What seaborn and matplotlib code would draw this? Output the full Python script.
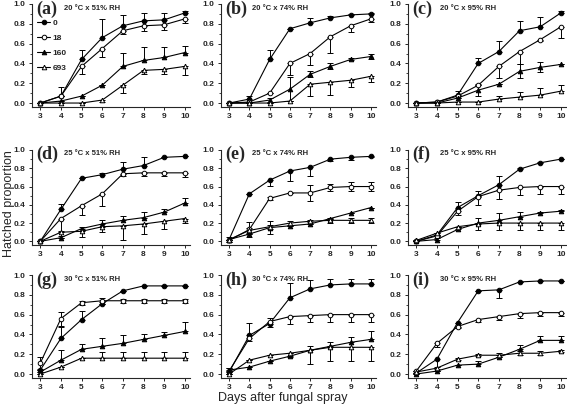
import numpy as np
import pandas as pd
import matplotlib
matplotlib.use("Agg")
import matplotlib.pyplot as plt
from matplotlib.ticker import MultipleLocator
import seaborn as sns

days = [3, 4, 5, 6, 7, 8, 9, 10]
doses = ["0", "18", "160", "693"]
panel_labels = ["(a)", "(b)", "(c)", "(d)", "(e)", "(f)", "(g)", "(h)", "(i)"]
conditions = ["20 °C x 51% RH", "20 °C x 74% RH", "20 °C x 95% RH",
              "25 °C x 51% RH", "25 °C x 74% RH", "25 °C x 95% RH",
              "30 °C x 51% RH", "30 °C x 74% RH", "30 °C x 95% RH"]

# mean hatched proportion per panel, rows = doses 0, 18, 160, 693
means = [
    [[0.00, 0.07, 0.44, 0.66, 0.78, 0.83, 0.84, 0.91],
     [0.00, 0.07, 0.37, 0.55, 0.73, 0.78, 0.79, 0.85],
     [0.00, 0.02, 0.07, 0.18, 0.37, 0.43, 0.46, 0.51],
     [0.00, 0.00, 0.00, 0.03, 0.18, 0.33, 0.34, 0.37]],
    [[0.00, 0.04, 0.44, 0.75, 0.81, 0.86, 0.89, 0.90],
     [0.00, 0.01, 0.10, 0.40, 0.50, 0.67, 0.78, 0.85],
     [0.00, 0.00, 0.03, 0.14, 0.29, 0.37, 0.44, 0.47],
     [0.00, 0.00, 0.00, 0.02, 0.19, 0.21, 0.23, 0.27]],
    [[0.00, 0.01, 0.08, 0.40, 0.52, 0.73, 0.77, 0.91],
     [0.00, 0.01, 0.07, 0.18, 0.37, 0.52, 0.64, 0.77],
     [0.00, 0.00, 0.05, 0.13, 0.19, 0.32, 0.36, 0.39],
     [0.00, 0.00, 0.01, 0.01, 0.04, 0.06, 0.08, 0.12]],
    [[0.00, 0.35, 0.69, 0.73, 0.79, 0.83, 0.92, 0.93],
     [0.00, 0.25, 0.39, 0.52, 0.74, 0.75, 0.75, 0.75],
     [0.00, 0.04, 0.14, 0.19, 0.23, 0.26, 0.32, 0.42],
     [0.00, 0.10, 0.11, 0.16, 0.17, 0.19, 0.22, 0.25]],
    [[0.02, 0.52, 0.67, 0.77, 0.81, 0.90, 0.92, 0.93],
     [0.01, 0.13, 0.47, 0.53, 0.53, 0.59, 0.60, 0.60],
     [0.02, 0.08, 0.15, 0.17, 0.19, 0.25, 0.31, 0.37],
     [0.02, 0.12, 0.16, 0.20, 0.22, 0.23, 0.23, 0.23]],
    [[0.00, 0.07, 0.37, 0.50, 0.62, 0.79, 0.86, 0.90],
     [0.00, 0.06, 0.33, 0.49, 0.56, 0.59, 0.60, 0.60],
     [0.00, 0.02, 0.13, 0.20, 0.23, 0.27, 0.31, 0.33],
     [0.01, 0.09, 0.16, 0.19, 0.20, 0.20, 0.20, 0.20]],
    [[0.04, 0.36, 0.55, 0.71, 0.84, 0.89, 0.89, 0.89],
     [0.11, 0.56, 0.72, 0.74, 0.74, 0.74, 0.74, 0.74],
     [0.02, 0.14, 0.25, 0.28, 0.31, 0.35, 0.39, 0.43],
     [0.00, 0.07, 0.16, 0.16, 0.16, 0.16, 0.16, 0.16]],
    [[0.02, 0.39, 0.51, 0.77, 0.86, 0.90, 0.91, 0.91],
     [0.03, 0.36, 0.53, 0.58, 0.59, 0.60, 0.60, 0.60],
     [0.04, 0.07, 0.13, 0.18, 0.24, 0.28, 0.32, 0.35],
     [0.00, 0.14, 0.19, 0.21, 0.24, 0.27, 0.27, 0.27]],
    [[0.01, 0.15, 0.52, 0.84, 0.85, 0.93, 0.94, 0.94],
     [0.03, 0.31, 0.48, 0.55, 0.58, 0.61, 0.62, 0.62],
     [0.00, 0.03, 0.09, 0.10, 0.17, 0.25, 0.34, 0.34],
     [0.02, 0.06, 0.15, 0.19, 0.19, 0.21, 0.21, 0.23]],
]

# error bar lengths (SE), same layout as means
errors = [
    [[0, 0.09, 0.10, 0.19, 0.11, 0.08, 0.07, 0.02],
     [0, 0.00, 0.08, 0.09, 0.03, 0.05, 0.05, 0.04],
     [0, 0.00, 0.00, 0.00, 0.14, 0.14, 0.11, 0.07],
     [0, 0.00, 0.00, 0.02, 0.08, 0.04, 0.05, 0.09]],
    [[0, 0.03, 0.10, 0.00, 0.05, 0.02, 0.01, 0.01],
     [0, 0.00, 0.00, 0.12, 0.12, 0.16, 0.06, 0.03],
     [0, 0.00, 0.02, 0.12, 0.03, 0.03, 0.01, 0.03],
     [0, 0.00, 0.00, 0.00, 0.12, 0.13, 0.07, 0.06]],
    [[0, 0.00, 0.04, 0.05, 0.11, 0.10, 0.10, 0.02],
     [0, 0.00, 0.00, 0.00, 0.12, 0.13, 0.01, 0.11],
     [0, 0.00, 0.00, 0.06, 0.00, 0.07, 0.05, 0.00],
     [0, 0.00, 0.00, 0.00, 0.03, 0.05, 0.07, 0.06]],
    [[0, 0.06, 0.00, 0.02, 0.08, 0.09, 0.00, 0.00],
     [0, 0.14, 0.10, 0.13, 0.03, 0.04, 0.04, 0.05],
     [0, 0.00, 0.02, 0.04, 0.05, 0.06, 0.03, 0.05],
     [0, 0.04, 0.06, 0.06, 0.16, 0.11, 0.08, 0.05]],
    [[0.03, 0.00, 0.06, 0.11, 0.09, 0.02, 0.03, 0.01],
     [0.00, 0.08, 0.02, 0.00, 0.09, 0.04, 0.05, 0.05],
     [0.00, 0.00, 0.07, 0.00, 0.00, 0.00, 0.00, 0.00],
     [0.03, 0.03, 0.02, 0.02, 0.01, 0.03, 0.03, 0.03]],
    [[0, 0.00, 0.06, 0.05, 0.09, 0.01, 0.01, 0.00],
     [0, 0.00, 0.04, 0.09, 0.10, 0.08, 0.08, 0.08],
     [0, 0.02, 0.03, 0.06, 0.08, 0.05, 0.01, 0.01],
     [0, 0.00, 0.00, 0.07, 0.08, 0.08, 0.08, 0.08]],
    [[0.00, 0.11, 0.09, 0.02, 0.00, 0.00, 0.00, 0.00],
     [0.06, 0.07, 0.02, 0.03, 0.02, 0.02, 0.02, 0.02],
     [0.00, 0.10, 0.05, 0.08, 0.08, 0.05, 0.03, 0.10],
     [0.00, 0.00, 0.00, 0.06, 0.06, 0.06, 0.06, 0.06]],
    [[0.04, 0.13, 0.06, 0.15, 0.09, 0.06, 0.05, 0.05],
     [0.03, 0.03, 0.05, 0.07, 0.06, 0.07, 0.07, 0.07],
     [0.02, 0.00, 0.00, 0.03, 0.04, 0.04, 0.05, 0.08],
     [0.00, 0.00, 0.00, 0.04, 0.14, 0.14, 0.14, 0.14]],
    [[0, 0.12, 0.00, 0.00, 0.08, 0.00, 0.00, 0.00],
     [0, 0.04, 0.02, 0.02, 0.03, 0.04, 0.03, 0.03],
     [0, 0.00, 0.00, 0.03, 0.02, 0.04, 0.04, 0.04],
     [0.01, 0.01, 0.01, 0.01, 0.02, 0.02, 0.02, 0.01]],
]

# which way each series' bars are drawn: u = up, d = down, b = both
bar_dirs = ["udud", "udbd", "udbu", "udud", "dbbb", "udud", "ubuu", "udud", "ddub"]

marker_styles = {
    "0": dict(marker="o", mfc="black"),
    "18": dict(marker="o", mfc="white"),
    "160": dict(marker="^", mfc="black"),
    "693": dict(marker="^", mfc="white"),
}

sns.set_style("ticks")
plt.rcParams["font.family"] = ["Liberation Sans", "DejaVu Sans"]

fig = plt.figure(figsize=(5.67, 4.08), dpi=100)
W, H = 567, 408
col_px = [(32, 158), (221, 155), (408, 158)]
row_px = [(4, 107), (150, 245), (275, 378)]

for p in range(9):
    r, c = divmod(p, 3)
    left, width = col_px[c]
    top, bottom = row_px[r]
    ax = fig.add_axes([left / W, 1 - bottom / H, width / W, (bottom - top) / H])

    rows = []
    for d, dose in enumerate(doses):
        for k, day in enumerate(days):
            rows.append({"day": day, "dose": dose, "mean": means[p][d][k],
                         "err": errors[p][d][k]})
    df = pd.DataFrame(rows)

    for d, dose in enumerate(doses):
        sub = df[df["dose"] == dose]
        e = sub["err"].to_numpy()
        zero = np.zeros_like(e)
        way = bar_dirs[p][d]
        yerr = [zero if way == "u" else e, zero if way == "d" else e]
        ax.errorbar(sub["day"], sub["mean"], yerr=yerr, fmt="none",
                    ecolor="black", elinewidth=0.7, capsize=2.2, capthick=0.7, zorder=2)
        sns.lineplot(data=sub, x="day", y="mean", ax=ax, color="black",
                     linewidth=0.8, markersize=3.3, mec="black", mew=0.7,
                     label=dose, legend=False, zorder=3, **marker_styles[dose])

    ax.set_xlim(2.6, 10.25)
    ax.set_ylim(-0.04, 1.0)
    ax.set_xticks(days)
    ax.yaxis.set_major_locator(MultipleLocator(0.2))
    ax.yaxis.set_minor_locator(MultipleLocator(0.1))
    ax.yaxis.set_major_formatter(matplotlib.ticker.FormatStrFormatter("%.1f"))
    ax.tick_params(axis="both", which="major", labelsize=6, length=2.5, width=0.7, pad=2)
    ax.tick_params(axis="y", which="minor", length=1.5, width=0.6)
    for lab in ax.get_xticklabels() + ax.get_yticklabels():
        lab.set_fontweight("bold")
    sns.despine(ax=ax)
    for s in ["left", "bottom"]:
        ax.spines[s].set_linewidth(0.8)
    ax.set_xlabel("")
    ax.set_ylabel("")

    ax.text(0.03, 0.95, panel_labels[p], transform=ax.transAxes, fontsize=13,
            fontweight="bold", family=["Liberation Serif", "DejaVu Serif"], va="center")
    ax.text(0.2, 0.96, conditions[p], transform=ax.transAxes, fontsize=5.5,
            fontweight="bold", va="center")

    if p == 0:
        ax.legend(loc="upper left", bbox_to_anchor=(0.0, 0.9), frameon=False,
                  handlelength=1.6, handletextpad=0.3, labelspacing=0.85,
                  borderaxespad=0.2, prop={"weight": "bold", "size": 6})

fig.text(283 / W, 1 - 398 / H, "Days after fungal spray", fontsize=9, ha="center", va="center")
fig.text(9 / W, 0.5, "Hatched proportion", fontsize=9, rotation=90, ha="center", va="center")

fig.savefig("out.png", dpi=100)
